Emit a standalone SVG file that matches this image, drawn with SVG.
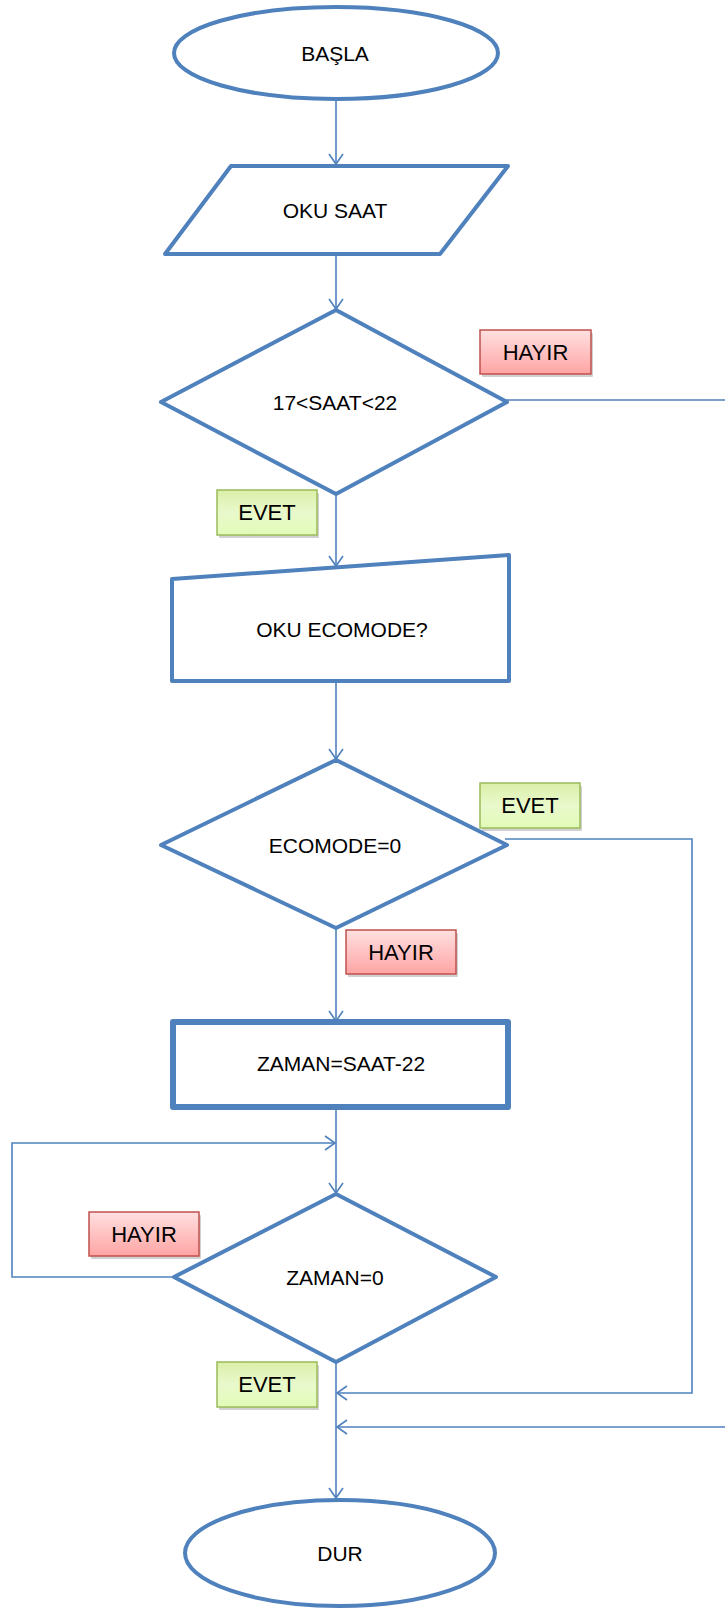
<svg xmlns="http://www.w3.org/2000/svg" width="725" height="1609" viewBox="0 0 725 1609">
<defs>
<style>
.shape{fill:#FFFFFF;stroke:#4F81BD;stroke-width:4;stroke-linejoin:round}
.thick{stroke-width:6}
.txt{font-family:"Liberation Sans",Arial,sans-serif;font-size:21px;fill:#000;text-anchor:middle;dominant-baseline:central}
.lbl{font-family:"Liberation Sans",Arial,sans-serif;font-size:22px;fill:#000;text-anchor:middle;dominant-baseline:central}
.conn{fill:none;stroke:#4F81BD;stroke-width:1.6}
.no{fill:url(#gNo);stroke:#C0504D;stroke-width:1.5}
.yes{fill:url(#gYes);stroke:#9BBB59;stroke-width:1.5}
.shadow{fill:#000;opacity:0.18}
</style>
<linearGradient id="gNo" x1="0" y1="0" x2="0" y2="1">
<stop offset="0" stop-color="#FFE0E0"/>
<stop offset="1" stop-color="#FFA4A4"/>
</linearGradient>
<linearGradient id="gYes" x1="0" y1="0" x2="0" y2="1">
<stop offset="0" stop-color="#DBEFA8"/>
<stop offset="0.5" stop-color="#E9F9CC"/>
<stop offset="1" stop-color="#E2FBB8"/>
</linearGradient>
<marker id="arr" markerWidth="14" markerHeight="16" refX="11" refY="8" orient="auto" markerUnits="userSpaceOnUse">
<path d="M1,1 L11,8 L1,15" fill="none" stroke="#4F81BD" stroke-width="1.6"/>
</marker>
</defs>

<g id="connectors">
<path class="conn" d="M336,100 L336,164" marker-end="url(#arr)"/>
<path class="conn" d="M336,254 L336,309" marker-end="url(#arr)"/>
<path class="conn" d="M336,494 L336,566" marker-end="url(#arr)"/>
<path class="conn" d="M336,681 L336,759" marker-end="url(#arr)"/>
<path class="conn" d="M505,400 L725,400"/>
<path class="conn" d="M336,928 L336,1021" marker-end="url(#arr)"/>
<path class="conn" d="M505,839 L692,839 L692,1393 L337,1393" marker-end="url(#arr)"/>
<path class="conn" d="M725,1427 L337,1427" marker-end="url(#arr)"/>
<path class="conn" d="M336,1107 L336,1193" marker-end="url(#arr)"/>
<path class="conn" d="M175,1277 L12,1277 L12,1143 L335,1143" marker-end="url(#arr)"/>
<path class="conn" d="M336,1362 L336,1498" marker-end="url(#arr)"/>
</g>

<g id="start">
<ellipse class="shape" cx="336" cy="53" rx="162" ry="46"/>
<text class="txt" x="335" y="53">BAŞLA</text>
</g>

<g id="read-saat">
<polygon class="shape" points="231,166 508,166 440,254 165,254"/>
<text class="txt" x="335" y="210">OKU SAAT</text>
</g>

<g id="decision-saat">
<polygon class="shape" points="336,310 507,402 336,494 161,402"/>
<text class="txt" x="335" y="402">17&lt;SAAT&lt;22</text>
</g>

<g id="read-ecomode">
<polygon class="shape" points="172,579 509,555 509,681 172,681"/>
<text class="txt" x="342" y="629">OKU ECOMODE?</text>
</g>

<g id="decision-ecomode">
<polygon class="shape" points="336,760 507,845 336,928 161,845"/>
<text class="txt" x="335" y="845">ECOMODE=0</text>
</g>

<g id="assign-zaman">
<rect class="shape thick" x="173" y="1022" width="335" height="85"/>
<text class="txt" x="341" y="1063">ZAMAN=SAAT-22</text>
</g>

<g id="decision-zaman">
<polygon class="shape" points="336,1194 496,1277 336,1362 174,1277"/>
<text class="txt" x="335" y="1277">ZAMAN=0</text>
</g>

<g id="end">
<ellipse class="shape" cx="340" cy="1553" rx="155" ry="53"/>
<text class="txt" x="340" y="1553">DUR</text>
</g>

<g id="label-hayir-1">
<rect class="shadow" x="482" y="333" width="111" height="44" rx="1"/>
<rect class="no" x="480" y="330" width="111" height="44"/>
<text class="lbl" x="535.5" y="352">HAYIR</text>
</g>
<g id="label-evet-1">
<rect class="shadow" x="219" y="493" width="100" height="45" rx="1"/>
<rect class="yes" x="217" y="490" width="100" height="45"/>
<text class="lbl" x="267" y="512">EVET</text>
</g>
<g id="label-evet-2">
<rect class="shadow" x="482" y="786" width="100" height="45" rx="1"/>
<rect class="yes" x="480" y="783" width="100" height="45"/>
<text class="lbl" x="530" y="805">EVET</text>
</g>
<g id="label-hayir-2">
<rect class="shadow" x="348" y="933" width="110" height="44" rx="1"/>
<rect class="no" x="346" y="930" width="110" height="44"/>
<text class="lbl" x="401" y="952">HAYIR</text>
</g>
<g id="label-hayir-3">
<rect class="shadow" x="91" y="1215" width="110" height="44" rx="1"/>
<rect class="no" x="89" y="1212" width="110" height="44"/>
<text class="lbl" x="144" y="1234">HAYIR</text>
</g>
<g id="label-evet-3">
<rect class="shadow" x="219" y="1365" width="100" height="45" rx="1"/>
<rect class="yes" x="217" y="1362" width="100" height="45"/>
<text class="lbl" x="267" y="1384">EVET</text>
</g>
</svg>
